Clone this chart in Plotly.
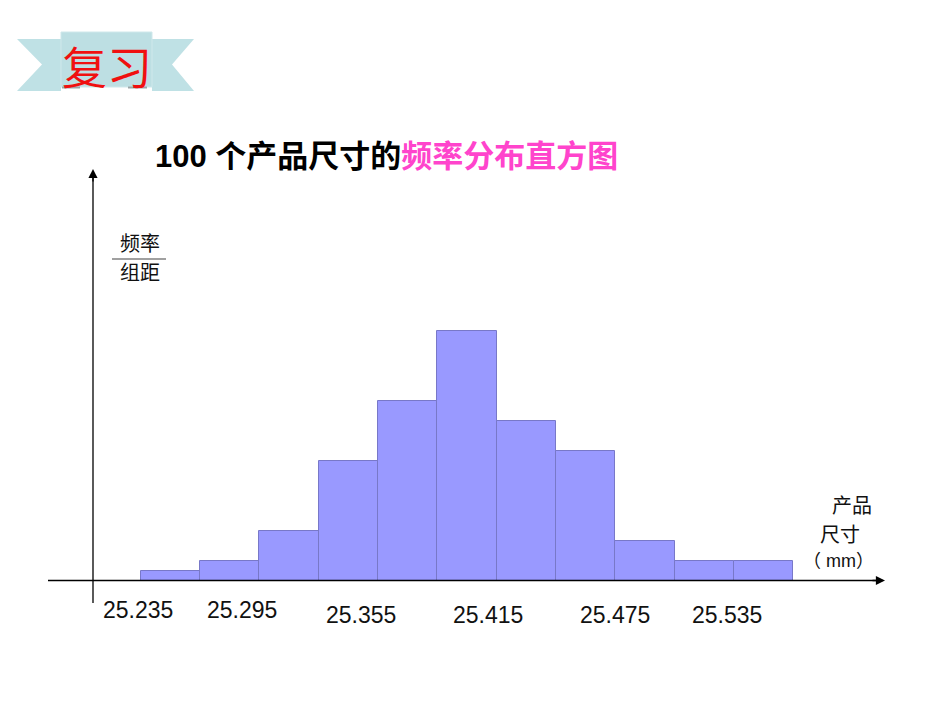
import plotly.graph_objects as go

# ---------------- data ----------------
bin_start = 25.235
bin_width = 0.03
counts = [1, 2, 5, 12, 18, 25, 16, 13, 4, 2, 2]
sample_size = 100
tick_values = [25.235, 25.295, 25.355, 25.415, 25.475, 25.535]
tick_labels = ["25.235", "25.295", "25.355", "25.415", "25.475", "25.535"]

# ---------------- derived ----------------
W, H = 950, 713
n = len(counts)
edges = [bin_start + i * bin_width for i in range(n + 1)]
centers = [bin_start + (i + 0.5) * bin_width for i in range(n)]
density = [c / sample_size / bin_width for c in counts]

# pixel layout (plot area = full page)
x_left_px, x_right_px = 140.7, 793.3
base_px, top_px = 580.5, 331.3
x_ppu = (x_right_px - x_left_px) / (edges[-1] - edges[0])
y_ppu = (base_px - top_px) / max(density)
x_range = [edges[0] - x_left_px / x_ppu, edges[0] + (W - x_left_px) / x_ppu]
y_range = [-(H - base_px) / y_ppu, base_px / y_ppu]


def px(x):
    return x / W


def py(y):
    return 1 - y / H


CJK = "Noto Sans CJK SC, Liberation Sans, sans-serif"
NUM = "Liberation Sans, Noto Sans CJK SC, sans-serif"

fig = go.Figure()
fig.add_trace(go.Bar(
    x=centers, y=density, width=bin_width,
    marker=dict(color="#9999FF", line=dict(color="#7878C8", width=1)),
    hoverinfo="skip", showlegend=False,
))

shapes = []
annotations = []

# ribbon banner
ribbon = [(17, 39), (194, 39), (172, 64.5), (194, 91), (17, 91), (42, 64.5)]
path = "M " + " L ".join(f"{px(a)},{py(b)}" for a, b in ribbon) + " Z"
shapes.append(dict(type="path", path=path, xref="paper", yref="paper",
                   fillcolor="#BFE1E5", line=dict(width=0), layer="above"))
# white gap under center box
shapes.append(dict(type="rect", xref="paper", yref="paper",
                   x0=px(61), x1=px(152), y0=py(91.5), y1=py(86),
                   fillcolor="white", line=dict(width=0), layer="above"))
shapes.append(dict(type="rect", xref="paper", yref="paper",
                   x0=px(61), x1=px(152), y0=py(87), y1=py(32),
                   fillcolor="#BDDFE3", line=dict(color="#CFE8EB", width=1), layer="above"))
for a, b in [(62, 80), (128, 147)]:
    shapes.append(dict(type="line", xref="paper", yref="paper",
                       x0=px(a), x1=px(b), y0=py(87.5), y1=py(87.5),
                       line=dict(color="#9AA6A8", width=2), layer="above"))
annotations.append(dict(text="复习", x=px(106.5), y=py(65), xref="paper", yref="paper",
                        showarrow=False, xanchor="center", yanchor="middle",
                        font=dict(family=CJK, size=45, color="#F01010")))

# title
annotations.append(dict(
    text="<b>100 个产品尺寸的<span style='color:#FF44CC'>频率分布直方图</span></b>",
    x=px(153), y=py(156), xref="paper", yref="paper", showarrow=False,
    xanchor="left", yanchor="middle",
    font=dict(family=NUM, size=31, color="black")))

# y label (fraction)
annotations.append(dict(text="频率", x=px(139.5), y=py(242), xref="paper", yref="paper",
                        showarrow=False, xanchor="center", yanchor="middle",
                        font=dict(family=CJK, size=20, color="#111111")))
shapes.append(dict(type="line", xref="paper", yref="paper",
                   x0=px(112), x1=px(166), y0=py(259), y1=py(259),
                   line=dict(color="#808080", width=1.5)))
annotations.append(dict(text="组距", x=px(139.5), y=py(271), xref="paper", yref="paper",
                        showarrow=False, xanchor="center", yanchor="middle",
                        font=dict(family=CJK, size=20, color="#111111")))

# x label
annotations.append(dict(text="产品", x=px(852), y=py(504), xref="paper", yref="paper",
                        showarrow=False, xanchor="center", yanchor="middle",
                        font=dict(family=CJK, size=20, color="#111111")))
annotations.append(dict(text="尺寸", x=px(840), y=py(533), xref="paper", yref="paper",
                        showarrow=False, xanchor="center", yanchor="middle",
                        font=dict(family=CJK, size=20, color="#111111")))
annotations.append(dict(text="（ mm）", x=px(838), y=py(561), xref="paper", yref="paper",
                        showarrow=False, xanchor="center", yanchor="middle",
                        font=dict(family=NUM, size=18, color="#111111")))

# axes
shapes.append(dict(type="line", xref="paper", yref="y",
                   x0=px(48), x1=px(878), y0=0, y1=0,
                   line=dict(color="black", width=1.3)))
annotations.append(dict(text="", x=px(885), y=0, xref="paper", yref="y",
                        ax=-14, ay=0, showarrow=True, arrowhead=2, arrowsize=1.4,
                        arrowwidth=1.3, arrowcolor="black", standoff=0))
shapes.append(dict(type="line", xref="paper", yref="paper",
                   x0=px(93), x1=px(93), y0=py(603), y1=py(176),
                   line=dict(color="black", width=1.3)))
annotations.append(dict(text="", x=px(93), y=py(169), xref="paper", yref="paper",
                        ax=0, ay=14, showarrow=True, arrowhead=2, arrowsize=1.4,
                        arrowwidth=1.3, arrowcolor="black", standoff=0))

# tick labels (placed loosely as in the original)
label_xshift = [-3, -17, -17, -9, 0, -7]
label_ypx = [610, 610, 615, 615, 615, 615]
for v, t, dx, ypx in zip(tick_values, tick_labels, label_xshift, label_ypx):
    annotations.append(dict(text=t, x=v, y=py(ypx), xref="x", yref="paper",
                            xshift=dx, showarrow=False, xanchor="center", yanchor="middle",
                            font=dict(family=NUM, size=23, color="#111111")))

fig.update_layout(
    width=W, height=H, autosize=False,
    margin=dict(l=0, r=0, t=0, b=0, pad=0),
    paper_bgcolor="white", plot_bgcolor="white",
    xaxis=dict(range=x_range, visible=False, fixedrange=True),
    yaxis=dict(range=y_range, visible=False, fixedrange=True),
    shapes=shapes, annotations=annotations,
    bargap=0, showlegend=False,
)

fig.write_html("out.html", config={"displayModeBar": False})
